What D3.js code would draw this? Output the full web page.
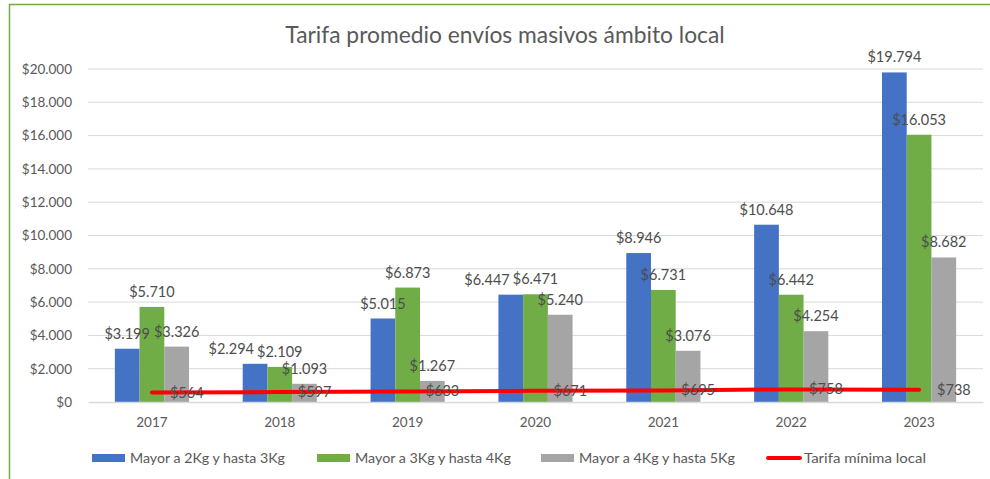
<!DOCTYPE html>
<html>
<head>
<meta charset="utf-8">
<script src="https://cdn.jsdelivr.net/npm/d3@7"></script>
<style>
    body { margin: 0; background: #fff; }
    svg { display: block; font-family: Lato, "Open Sans", sans-serif; }
</style>
</head>
<body>
<div id="chart"></div>
<script>
const years = ["2017", "2018", "2019", "2020", "2021", "2022", "2023"];
const seriesNames = ["Mayor a 2Kg y hasta 3Kg", "Mayor a 3Kg y hasta 4Kg", "Mayor a 4Kg y hasta 5Kg"];
const mayor2a3 = [3199, 2294, 5015, 6447, 8946, 10648, 19794];
const mayor3a4 = [5710, 2109, 6873, 6471, 6731, 6442, 16053];
const mayor4a5 = [3326, 1093, 1267, 5240, 3076, 4254, 8682];
const tarifaMinima = [564, 597, 633, 671, 695, 758, 738];
const lineName = "Tarifa mínima local";
const yTicks = [0, 2000, 4000, 6000, 8000, 10000, 12000, 14000, 16000, 18000, 20000];

const colors = ["#4472c4", "#70ad47", "#a5a5a5"];
const barSeries = [mayor2a3, mayor3a4, mayor4a5];

const width = 990, height = 479;
const margin = {top: 69, right: 7, bottom: 77, left: 88};

const fmt = d3.formatLocale({decimal: ",", thousands: ".", grouping: [3], currency: ["$", ""]}).format("$,.0f");

const svg = d3.select("#chart").append("svg")
    .attr("width", width)
    .attr("height", height);

// chart border (green, cut off at right/bottom)
svg.append("rect")
    .attr("x", 9.5).attr("y", 4.5)
    .attr("width", 1000).attr("height", 500)
    .attr("fill", "none")
    .attr("stroke", "#70ad47")
    .attr("stroke-width", 1.5);

// title
svg.append("text")
    .attr("x", 505).attr("y", 43)
    .attr("text-anchor", "middle")
    .attr("font-size", 22.8)
    .attr("fill", "#595959")
    .text("Tarifa promedio envíos masivos ámbito local");

let x = d3.scaleBand()
    .domain(years)
    .range([margin.left, width - margin.right])
    .paddingInner(0.42)
    .paddingOuter(0.21);

let xInner = d3.scaleBand()
    .domain(d3.range(barSeries.length))
    .range([0, x.bandwidth()]);

let y = d3.scaleLinear()
    .domain([0, 20000])
    .range([402, margin.top]);

// gridlines
svg.append("g")
    .selectAll("line")
    .data(yTicks.slice(1))
    .enter()
    .append("line")
    .attr("x1", margin.left)
    .attr("x2", width - margin.right)
    .attr("y1", d => y(d))
    .attr("y2", d => y(d))
    .attr("stroke", "#d9d9d9")
    .attr("stroke-width", 1);

// y axis
let yAxis = svg.append("g")
    .attr("transform", "translate(" + margin.left + ",0)")
    .call(d3.axisLeft(y).tickValues(yTicks).tickFormat(fmt).tickSize(0).tickPadding(16));
yAxis.select(".domain").remove();
yAxis.selectAll("text")
    .attr("font-size", 13.5)
    .attr("font-family", "Lato, sans-serif")
    .attr("fill", "#595959");

// bars
barSeries.forEach((values, si) => {
    let g = svg.append("g");
    g.selectAll("rect")
        .data(values)
        .enter()
        .append("rect")
        .attr("x", (d, i) => x(years[i]) + xInner(si))
        .attr("width", xInner.bandwidth())
        .attr("y", d => y(d))
        .attr("height", d => y(0) - y(d))
        .attr("fill", colors[si]);
});

// x axis
let xAxis = svg.append("g")
    .attr("transform", "translate(0," + y(0) + ")")
    .call(d3.axisBottom(x).tickSize(0).tickPadding(15));
xAxis.select(".domain")
    .attr("stroke", "#d9d9d9")
    .attr("stroke-width", 1.5);
xAxis.selectAll("text")
    .attr("font-size", 13.5)
    .attr("font-family", "Lato, sans-serif")
    .attr("fill", "#595959");

// line
svg.append("path")
    .datum(tarifaMinima)
    .attr("fill", "none")
    .attr("stroke", "#ff0000")
    .attr("stroke-width", 4)
    .attr("stroke-linecap", "round")
    .attr("d", d3.line()
        .x((d, i) => x(years[i]) + x.bandwidth() / 2)
        .y(d => y(d)));

// bar labels
let barLabels = barSeries.map((values, si) => {
    return svg.append("g")
        .selectAll("text")
        .data(values)
        .enter()
        .append("text")
        .attr("x", (d, i) => x(years[i]) + xInner(si) + xInner.bandwidth() / 2)
        .attr("y", d => y(d) - 10)
        .attr("text-anchor", "middle")
        .attr("font-size", 14.5)
        .attr("fill", "#4d4d4d")
        .text(d => fmt(d))
        .nodes();
});

// push a label left when it collides with the next one in its group
years.forEach((yr, i) => {
    for (let si = barSeries.length - 2; si >= 0; si--) {
        let a = barLabels[si][i], b = barLabels[si + 1][i];
        let ba = a.getBBox(), bb = b.getBBox();
        let overlapX = ba.x + ba.width + 3 - bb.x;
        let overlapY = Math.min(ba.y + ba.height, bb.y + bb.height) - Math.max(ba.y, bb.y);
        if (overlapX > 0 && overlapY > 4) {
            a.setAttribute("x", +a.getAttribute("x") - overlapX);
        }
    }
});

// line labels
svg.append("g")
    .selectAll("text")
    .data(tarifaMinima)
    .enter()
    .append("text")
    .attr("x", (d, i) => x(years[i]) + x.bandwidth() / 2 + 18)
    .attr("y", d => y(d) + 5)
    .attr("font-size", 14.5)
    .attr("fill", "#4d4d4d")
    .text(d => fmt(d));

// legend
const legendY = 458;
const legendItems = [
    {name: seriesNames[0], type: "rect", color: colors[0], x: 92, tw: 155},
    {name: seriesNames[1], type: "rect", color: colors[1], x: 317, tw: 156},
    {name: seriesNames[2], type: "rect", color: colors[2], x: 541, tw: 156},
    {name: lineName, type: "line", color: "#ff0000", x: 766, tw: 122}
];
let legend = svg.append("g");
legendItems.forEach(item => {
    if (item.type === "rect") {
        legend.append("rect")
            .attr("x", item.x).attr("y", legendY - 4)
            .attr("width", 33).attr("height", 8)
            .attr("fill", item.color);
    } else {
        legend.append("line")
            .attr("x1", item.x + 2).attr("x2", item.x + 34)
            .attr("y1", legendY).attr("y2", legendY)
            .attr("stroke", item.color)
            .attr("stroke-width", 4)
            .attr("stroke-linecap", "round");
    }
    legend.append("text")
        .attr("x", item.x + 38)
        .attr("y", legendY + 5)
        .attr("font-size", 14)
        .attr("fill", "#595959")
        .attr("textLength", item.tw)
        .attr("lengthAdjust", "spacingAndGlyphs")
        .text(item.name);
});
</script>
</body>
</html>
